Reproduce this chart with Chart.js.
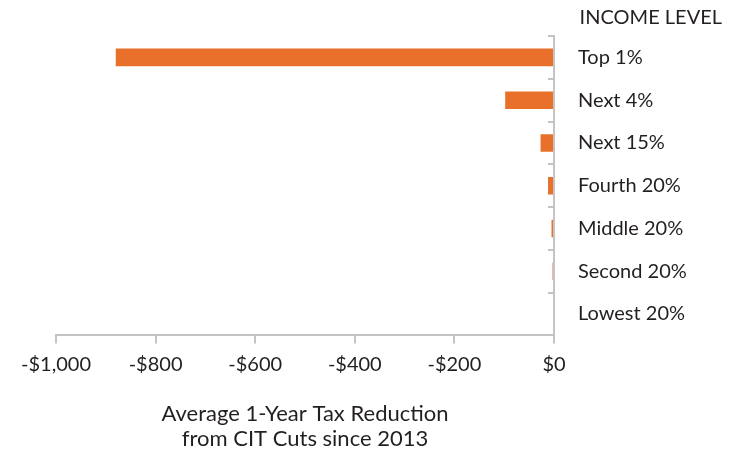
<!DOCTYPE html>
<html>
<head>
<meta charset="utf-8">
<script src="https://cdn.jsdelivr.net/npm/chart.js@4.4.1/dist/chart.umd.min.js"></script>
<style>
  html, body { margin: 0; padding: 0; background: #fff; }
  #wrap { width: 739px; height: 453px; }
</style>
</head>
<body>
<div id="wrap"><canvas id="chart"></canvas></div>
<script>
// data
const categories = ['Top 1%', 'Next 4%', 'Next 15%', 'Fourth 20%', 'Middle 20%', 'Second 20%', 'Lowest 20%'];
const taxCut = [-880, -98, -27, -12, -5, -3, 0];
const xTicks = [-1000, -800, -600, -400, -200, 0];
const xTickLabels = ['-$1,000', '-$800', '-$600', '-$400', '-$200', '$0'];

const ORANGE = '#E8702A';
const AXIS = '#c4c4c4';
const TEXT = '#231f20';
const FONT = 'Lato, "Open Sans", sans-serif';

// small category ticks on the inner side of the y axis
const innerTicks = {
  id: 'innerTicks',
  afterDraw(chart){
    const y = chart.scales.y, x = chart.scales.x;
    const ctx = chart.ctx;
    const x0 = x.getPixelForValue(0);
    ctx.save();
    ctx.strokeStyle = AXIS;
    ctx.lineWidth = 2;
    for (let i = 0; i <= categories.length; i++) {
      const py = Math.round(y.getPixelForValue(i - 0.5));
      ctx.beginPath();
      ctx.moveTo(x0 - 6, py);
      ctx.lineTo(x0, py);
      ctx.stroke();
    }
    ctx.restore();
  }
};

new Chart(document.getElementById('chart'), {
  type: 'bar',
  data: {
    labels: categories,
    datasets: [{
      data: taxCut,
      backgroundColor: ORANGE,
      categoryPercentage: 1,
      barPercentage: 0.41
    }]
  },
  plugins: [innerTicks],
  options: {
    indexAxis: 'y',
    responsive: true,
    maintainAspectRatio: false,
    animation: false,
    layout: { padding: { left: 56, right: 17, top: 6, bottom: 1 } },
    plugins: {
      legend: { display: false },
      tooltip: { enabled: false },
      title: {
        display: true,
        text: 'INCOME LEVEL',
        align: 'end',
        color: TEXT,
        font: { family: FONT, size: 20, weight: 'normal' },
        padding: { top: 0, bottom: 6 }
      }
    },
    scales: {
      x: {
        type: 'linear',
        min: -1000,
        max: 0,
        afterBuildTicks(scale){ scale.ticks = xTicks.map(v => ({ value: v })); },
        ticks: {
          color: TEXT,
          font: { family: FONT, size: 20 },
          padding: 9,
          callback: (v) => xTickLabels[xTicks.indexOf(v)]
        },
        grid: { drawOnChartArea: false, drawTicks: true, tickLength: 8, color: AXIS, lineWidth: 2 },
        border: { display: true, color: AXIS, width: 2 },
        title: {
          display: true,
          text: ['Average 1-Year Tax Reduction', 'from CIT Cuts since 2013'],
          color: TEXT,
          font: { family: FONT, size: 22, lineHeight: 1.15 },
          padding: { top: 16, bottom: 0 }
        }
      },
      y: {
        position: 'right',
        afterFit(scale){ scale.width = 168; },
        ticks: {
          color: TEXT,
          font: { family: FONT, size: 20 },
          padding: 16
        },
        grid: { display: false },
        border: { display: true, color: AXIS, width: 2 }
      }
    }
  }
});
</script>
</body>
</html>
